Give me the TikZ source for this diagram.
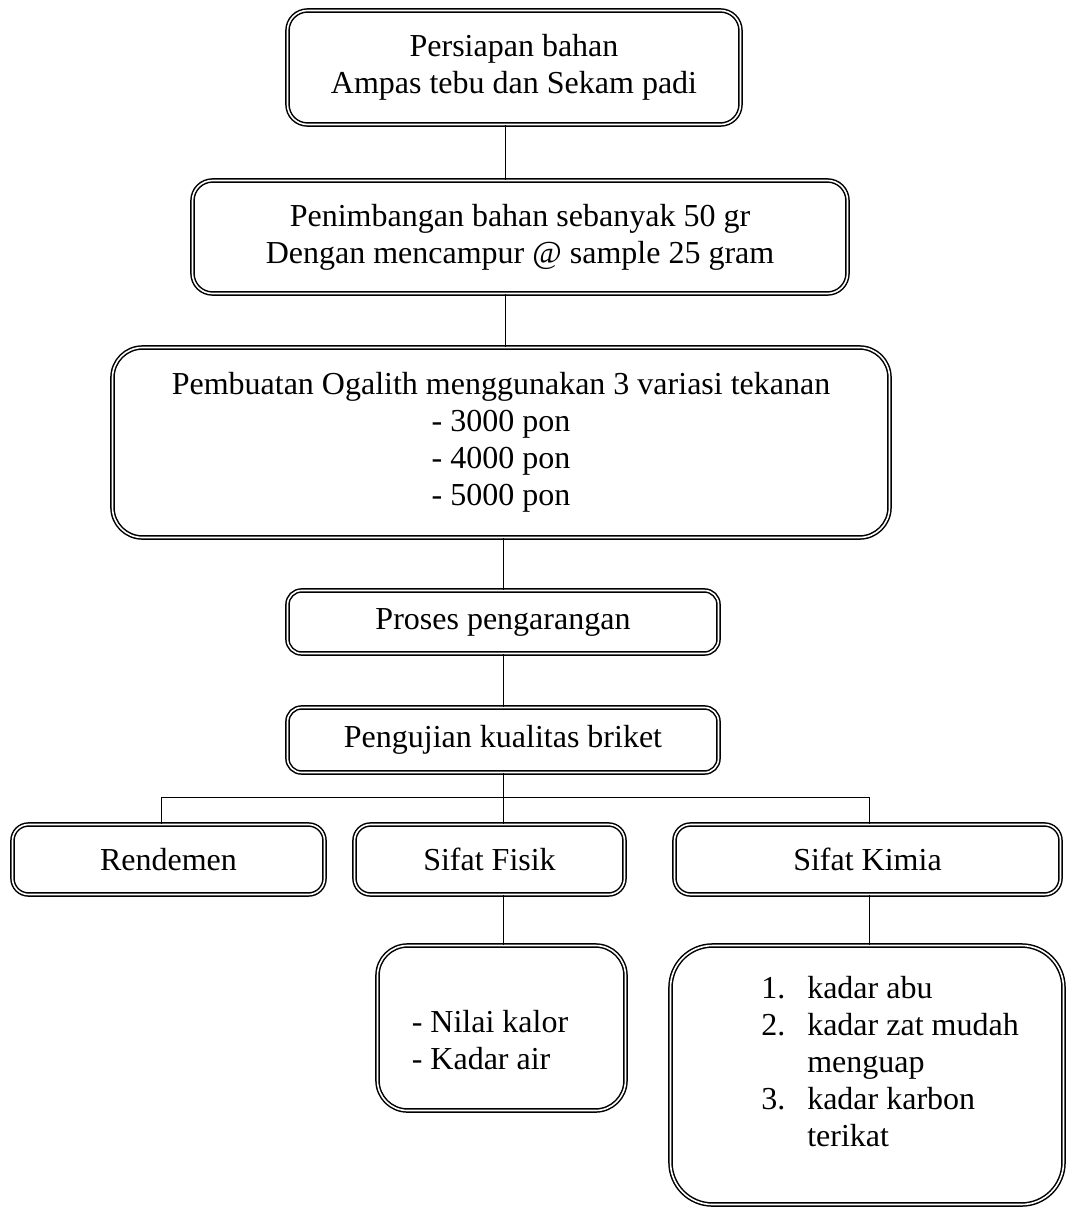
\documentclass[tikz,border=0pt]{standalone}
\usepackage{fontspec}
\setmainfont{Liberation Serif}
\begin{document}
\begin{tikzpicture}[x=1pt,y=-1pt,
  box/.style={draw=black, double=white, line width=1.5pt, double distance=1.6pt,
    align=center, inner sep=0pt, font=\fontsize{32}{37}\selectfont},
  txt/.style={align=left, inner sep=0pt, font=\fontsize{32}{37}\selectfont},
  conn/.style={draw=black, line width=0.9pt}]
\useasboundingbox (0,0) rectangle (1068,1211);
\node[box, rounded corners=20pt, minimum width=453pt, minimum height=114pt] (p1) at (514,67.5)
  {Persiapan bahan\\Ampas tebu dan Sekam padi};
\node[box, rounded corners=20pt, minimum width=655pt, minimum height=113pt] (p2) at (520,237)
  {Penimbangan bahan sebanyak 50 gr\\Dengan mencampur @ sample 25 gram};
\node[box, rounded corners=30pt, minimum width=777pt, minimum height=190pt] (p3) at (501,442.5)
  {Pembuatan Ogalith menggunakan 3 variasi tekanan\\- 3000 pon\\- 4000 pon\\- 5000 pon};
\node[box, rounded corners=14pt, minimum width=431pt, minimum height=63pt] (p4) at (503,622)
  {Proses pengarangan};
\node[box, rounded corners=14pt, minimum width=431pt, minimum height=65pt] (p5) at (503,740)
  {Pengujian kualitas briket};
\node[box, rounded corners=16pt, minimum width=312pt, minimum height=70pt] (r1) at (168.5,859.5)
  {Rendemen};
\node[box, rounded corners=16pt, minimum width=270pt, minimum height=70pt] (r2) at (489.5,859.5)
  {Sifat Fisik};
\node[box, rounded corners=16pt, minimum width=386pt, minimum height=70pt] (r3) at (867.5,859.5)
  {Sifat Kimia};
\node[box, rounded corners=30pt, minimum width=248pt, minimum height=165pt] (f1) at (501.5,1028) {};
\node[txt] (f1t) at (490,1040) {- Nilai kalor\\- Kadar air};
\node[box, rounded corners=42pt, minimum width=393pt, minimum height=259pt] (k1) at (867,1075) {};
\node[txt] (k1t) at (890,1065) {%
  \begin{tabular}{@{}l@{\hspace{22pt}}l@{}}
  1. & kadar abu\\
  2. & kadar zat mudah\\
     & menguap\\
  3. & kadar karbon\\
     & terikat
  \end{tabular}};
\coordinate (t) at (505,0);
\coordinate (hl) at (161,797);
\coordinate (hm) at (503,797);
\coordinate (hr) at (869,797);
\draw[conn] (p1.south -| t) -- (p2.north -| t);
\draw[conn] (p2.south -| t) -- (p3.north -| t);
\draw[conn] (p3.south -| hm) -- (p4.north -| hm);
\draw[conn] (p4.south -| hm) -- (p5.north -| hm);
\draw[conn] (p5.south -| hm) -- (r2.north -| hm);
\draw[conn] (r1.north -| hl) -- (hl) -- (hr) -- (r3.north -| hr);
\draw[conn] (r2.south -| hm) -- (f1.north -| hm);
\draw[conn] (r3.south -| hr) -- (k1.north -| hr);
\end{tikzpicture}
\end{document}
